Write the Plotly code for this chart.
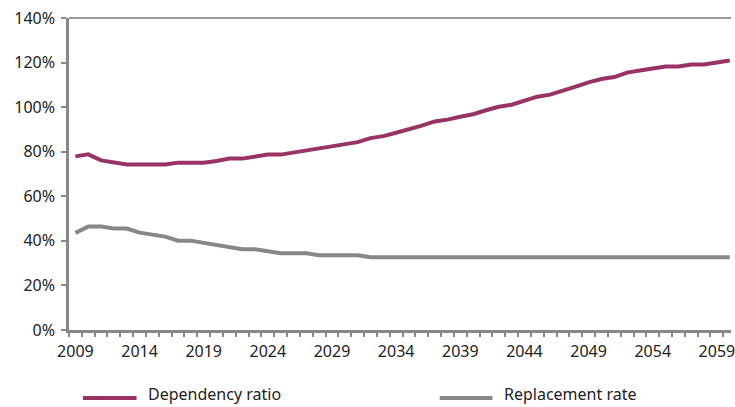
import plotly.graph_objects as go

# Years 2009-2060
years = list(range(2009, 2061))

dependency_ratio = [
    77.9, 78.8, 76.1, 75.2, 74.3, 74.3, 74.3, 74.3, 75.1, 75.1,
    75.1, 75.8, 76.9, 76.9, 77.8, 78.7, 78.7, 79.7, 80.6, 81.6,
    82.5, 83.4, 84.3, 86.1, 87.0, 88.5, 89.9, 91.7, 93.6, 94.4,
    95.7, 96.8, 98.6, 100.2, 101.1, 103.1, 104.7, 105.6, 107.6, 109.2,
    111.1, 112.6, 113.5, 115.5, 116.4, 117.3, 118.2, 118.2, 119.1, 119.1,
    120.0, 120.9,
]

replacement_rate = [
    43.6, 46.4, 46.4, 45.5, 45.5, 43.7, 42.8, 41.9, 40.1, 40.1,
    39.1, 38.2, 37.1, 36.2, 36.2, 35.3, 34.4, 34.4, 34.4, 33.5,
    33.5, 33.5, 33.5, 32.7, 32.7, 32.7, 32.7, 32.7, 32.7, 32.7,
    32.7, 32.7, 32.7, 32.7, 32.7, 32.7, 32.7, 32.7, 32.7, 32.7,
    32.7, 32.7, 32.7, 32.7, 32.7, 32.7, 32.7, 32.7, 32.7, 32.7,
    32.7, 32.7,
]

series_names = ["Dependency ratio", "Replacement rate"]
series_colors = ["#993366", "#878787"]

x_tick_years = list(range(2009, 2060, 5))
y_ticks = list(range(0, 141, 20))

FONT = "Noto Sans"
W, H = 735, 407
ML, MR, MT, MB = 69, 0, 18, 77

fig = go.Figure()
for name, vals, col in zip(series_names, [dependency_ratio, replacement_rate], series_colors):
    fig.add_trace(go.Scatter(
        x=years, y=vals, mode="lines", name=name,
        line=dict(color=col, width=4, shape="linear"),
        showlegend=False, hoverinfo="x+y",
    ))

# Legend drawn below the plot: a short line sample followed by the label
plot_w = W - ML - MR
plot_h = H - MT - MB


def px_to_paper_x(px):
    return (px - ML) / plot_w


def px_to_paper_y(py):
    return (H - MB - py) / plot_h


legend_items = [
    (83, 137, 146),
    (442, 495, 505),
]
legend_line_y = 398
legend_text_y = 394
for (x0, x1, xt), name, col in zip(legend_items, series_names, series_colors):
    fig.add_shape(
        type="line", xref="paper", yref="paper",
        x0=px_to_paper_x(x0), x1=px_to_paper_x(x1),
        y0=px_to_paper_y(legend_line_y), y1=px_to_paper_y(legend_line_y),
        line=dict(color=col, width=4),
    )
    fig.add_annotation(
        xref="paper", yref="paper",
        x=px_to_paper_x(xt), y=px_to_paper_y(legend_text_y),
        xanchor="left", yanchor="middle", showarrow=False,
        text=name, font=dict(family=FONT, size=16, color="#222222"),
    )

# Thin frame line along the top of the plot area
fig.add_shape(
    type="line", xref="paper", yref="paper", x0=0, x1=1, y0=1, y1=1,
    line=dict(color="#9a9a9a", width=2),
)

fig.update_layout(
    width=W, height=H,
    margin=dict(l=ML, r=MR, t=MT, b=MB, pad=0),
    paper_bgcolor="white", plot_bgcolor="white",
    font=dict(family=FONT, size=16, color="#222222"),
    xaxis=dict(
        range=[2008.5, 2060.1],
        tickmode="array", tickvals=x_tick_years,
        ticktext=[str(y) for y in x_tick_years],
        ticks="", showgrid=False, zeroline=False,
        showline=True, linecolor="#888888", linewidth=2.5,
        ticklabeloverflow="allow", ticklabelstandoff=5,
        minor=dict(ticks="outside", ticklen=4, tickcolor="#888888",
                   tickwidth=1.5, tick0=2008.5, dtick=1, showgrid=False),
        tickfont=dict(family=FONT, size=16, color="#222222"),
    ),
    yaxis=dict(
        range=[0, 140], tickmode="array", tickvals=y_ticks,
        ticktext=[f"{v}%" for v in y_ticks],
        ticks="outside", ticklen=5, tickwidth=1.5, tickcolor="#888888",
        showgrid=False, zeroline=False,
        showline=True, linecolor="#888888", linewidth=2.5,
        ticklabelstandoff=3,
        tickfont=dict(family=FONT, size=16, color="#222222"),
    ),
)

fig.write_html("out.html")
